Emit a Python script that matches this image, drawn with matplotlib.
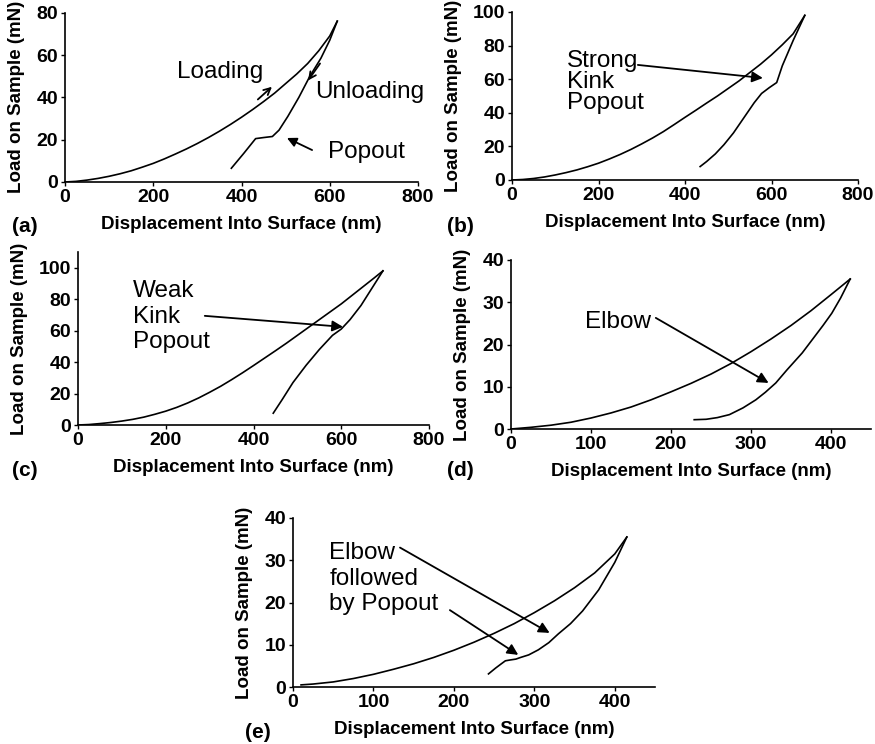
import matplotlib
matplotlib.use("Agg")
import matplotlib.pyplot as plt

plt.rcParams["font.family"] = ["Liberation Sans", "DejaVu Sans"]
plt.rcParams["font.weight"] = "bold"
plt.rcParams["axes.labelweight"] = "bold"

# (a) loading / unloading with a popout
a_load_x = [0, 25, 50, 75, 100, 125, 150, 175, 200, 225, 250, 275, 300, 325, 350,
            375, 400, 425, 450, 475, 500, 525, 550, 575, 600, 617]
a_load_y = [0, 0.3, 0.9, 1.7, 2.7, 3.9, 5.3, 7, 8.8, 10.9, 13.2, 15.6, 18.2, 21, 24,
            27.2, 30.6, 34.2, 38, 42, 46.5, 51, 56, 62, 69, 76]
a_unl_x = [617, 600, 580, 555, 530, 505, 485, 470, 450, 432, 405, 377]
a_unl_y = [76, 67, 58.5, 50, 40, 31, 24.5, 21.5, 21, 20.5, 13.5, 6.5]

# (b) strong kink popout
b_load_x = [0, 25, 50, 75, 100, 125, 150, 175, 200, 225, 250, 275, 300, 325, 350,
            375, 400, 425, 450, 475, 500, 525, 550, 575, 600, 625, 650, 677]
b_load_y = [0, 0.3, 0.9, 1.8, 3, 4.4, 6, 7.9, 10, 12.5, 15.2, 18.2, 21.5, 25, 28.8,
            33, 37.3, 41.5, 45.8, 50, 54.5, 59, 64, 69, 74.5, 80.5, 87, 98]
b_unl_x = [677, 650, 625, 612, 595, 577, 560, 540, 512, 490, 470, 450, 435]
b_unl_y = [98, 83, 68, 58, 55, 51.5, 46, 38.5, 28, 21, 15.5, 11, 8]

# (c) weak kink popout
c_load_x = [0, 25, 50, 75, 100, 125, 150, 175, 200, 225, 250, 275, 300, 325, 350,
            375, 400, 425, 450, 475, 500, 525, 550, 575, 600, 625, 650, 675, 695]
c_load_y = [0, 0.3, 0.9, 1.6, 2.5, 3.6, 5, 6.8, 8.8, 11.2, 14, 17.2, 20.8, 24.6, 28.8,
            33.2, 37.8, 42.5, 47.2, 52, 57, 62, 67, 72, 77, 82.5, 88, 93.5, 98]
c_unl_x = [695, 670, 645, 620, 600, 580, 550, 520, 490, 465, 445]
c_unl_y = [98, 87, 76, 67, 61, 57, 48, 38, 27, 16, 7.5]

# (d) elbow
d_load_x = [0, 25, 50, 75, 100, 125, 150, 175, 200, 225, 250, 275, 300, 325, 350,
            375, 400, 424]
d_load_y = [0, 0.4, 0.9, 1.6, 2.6, 3.8, 5.2, 6.9, 8.8, 10.8, 13, 15.5, 18.3, 21.3,
            24.5, 28, 31.8, 35.5]
d_unl_x = [424, 412, 401, 390, 380, 364, 345, 331, 318, 306, 290, 273, 258, 244, 229]
d_unl_y = [35.5, 31, 27.4, 24.5, 22, 18, 14, 10.9, 8.7, 6.9, 5, 3.4, 2.7, 2.3, 2.2]

# (e) elbow followed by popout
e_load_x = [10, 25, 50, 75, 100, 125, 150, 175, 200, 225, 250, 275, 300, 325, 350,
            375, 400, 415]
e_load_y = [0.5, 0.7, 1.2, 2, 3, 4.2, 5.5, 7, 8.7, 10.6, 12.7, 15, 17.6, 20.4, 23.5,
            27, 31.5, 35.5]
e_unl_x = [415, 400, 380, 360, 345, 330, 318, 305, 293, 283, 277, 270, 264, 259, 252, 243]
e_unl_y = [35.5, 29.5, 23, 18, 15, 12.6, 10.5, 8.8, 7.6, 7, 6.6, 6.4, 6.2, 5.5, 4.5, 3.1]

W, H = 875, 744
fig = plt.figure(figsize=(W / 100, H / 100), dpi=100)


def place(left, right, top, bottom):
    return fig.add_axes([left / W, 1 - bottom / H, (right - left) / W, (bottom - top) / H])


def style(ax, xlim, xticks, ylim, yticks):
    ax.set_xlim(*xlim)
    ax.set_ylim(*ylim)
    ax.set_xticks(xticks)
    ax.set_yticks(yticks)
    for s in ("top", "right"):
        ax.spines[s].set_visible(False)
    for s in ("left", "bottom"):
        ax.spines[s].set_linewidth(1.2)
    ax.tick_params(direction="out", length=3, width=1, labelsize=14, pad=2)
    ax.set_xlabel("Displacement Into Surface (nm)", fontsize=13.5, labelpad=7)
    ax.set_ylabel("Load on Sample (mN)", fontsize=13.5, labelpad=8)


def curves(ax, lx, ly, ux, uy):
    ax.plot(lx, ly, color="black", lw=1.2, solid_joinstyle="round")
    ax.plot(ux, uy, color="black", lw=1.2, solid_joinstyle="round")


def arrow(ax, tail, head, style_="-|>", ms=16):
    ax.annotate("", xy=head, xytext=tail,
                arrowprops=dict(arrowstyle=style_, color="black", lw=1.3,
                                mutation_scale=ms, shrinkA=0, shrinkB=0))


note = dict(fontsize=17.5, fontweight="normal", color="black")

ax = place(65, 418, 12.7, 182)
curves(ax, a_load_x, a_load_y, a_unl_x, a_unl_y)
style(ax, (0, 800), [0, 200, 400, 600, 800], (0, 80), [0, 20, 40, 60, 80])
ax.text(254, 52, "Loading", va="center", **note)
ax.text(567, 42.5, "Unloading", va="center", **note)
ax.text(596, 14.2, "Popout", va="center", **note)
arrow(ax, (437, 39), (469, 45), "->", 12)
arrow(ax, (578, 56), (551, 48), "->", 12)
arrow(ax, (560, 15.1), (503, 20.8), "-|>", 14)

ax = place(512, 858, 12, 180)
curves(ax, b_load_x, b_load_y, b_unl_x, b_unl_y)
style(ax, (0, 800), [0, 200, 400, 600, 800], (0, 100), [0, 20, 40, 60, 80, 100])
ax.text(127, 58.3, "Strong\nKink\nPopout", va="center", linespacing=0.95, **note)
arrow(ax, (291, 68.5), (580, 60.7))

ax = place(78, 429, 252, 425)
curves(ax, c_load_x, c_load_y, c_unl_x, c_unl_y)
style(ax, (0, 800), [0, 200, 400, 600, 800], (0, 110), [0, 20, 40, 60, 80, 100])
ax.text(125, 68.8, "Weak\nKink\nPopout", va="center", linespacing=1.2, **note)
arrow(ax, (289, 69.4), (604, 62.4))

ax = place(511, 871, 260, 429)
curves(ax, d_load_x, d_load_y, d_unl_x, d_unl_y)
style(ax, (0, 450), [0, 100, 200, 300, 400], (0, 40), [0, 10, 20, 30, 40])
ax.text(92, 25.3, "Elbow", va="center", **note)
arrow(ax, (181, 26.3), (322, 10.9))

ax = place(293, 655, 518, 687)
curves(ax, e_load_x, e_load_y, e_unl_x, e_unl_y)
style(ax, (0, 450), [0, 100, 200, 300, 400], (0, 40), [0, 10, 20, 30, 40])
ax.text(45, 25.6, "Elbow\nfollowed\nby Popout", va="center", linespacing=1.2, **note)
arrow(ax, (133, 33), (319, 12.8))
arrow(ax, (195, 18.2), (280, 7.6))

for label, x, y in [("(a)", 25, 227), ("(b)", 460, 227), ("(c)", 25, 470),
                    ("(d)", 460, 470), ("(e)", 258, 732)]:
    fig.text(x / W, 1 - y / H, label, fontsize=15, ha="center", va="center")

fig.savefig("out.png", dpi=100)
